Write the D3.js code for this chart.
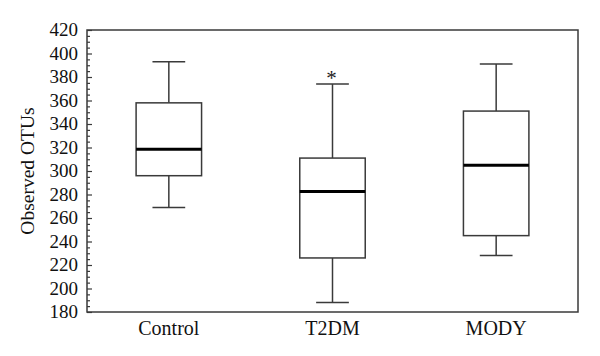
<!DOCTYPE html>
<html>
<head>
<meta charset="utf-8">
<script src="https://cdn.jsdelivr.net/npm/d3@7"></script>
<style>
  html, body { margin: 0; padding: 0; background: #ffffff; }
  svg { display: block; }
</style>
</head>
<body>
<svg id="chart" width="600" height="356"></svg>
<script>
const categories = ["Control", "T2DM", "MODY"];
const whiskerLow = [269, 188, 228];
const q1Values = [296, 226, 245];
const medianValues = [318.5, 282.5, 305];
const q3Values = [358, 311, 351];
const whiskerHigh = [393, 374, 391];
const markers = ["", "*", ""];
const yTicks = [180, 200, 220, 240, 260, 280, 300, 320, 340, 360, 380, 400, 420];
const yLabel = "Observed OTUs";

const svg = d3.select("#chart");
const margin = { left: 87, right: 22, top: 30, bottom: 44 };
const W = 600, H = 356;
const x0 = margin.left, x1 = W - margin.right;
const y0 = H - margin.bottom, y1 = margin.top;

const x = d3.scaleBand().domain(categories).range([x0, x1]).padding(0);
const y = d3.scaleLinear().domain([180, 420]).range([y0, y1]);

const font = "'Liberation Serif', 'Times New Roman', serif";
const lineColor = "#3a3a3a";

// minor ticks (inward)
const minor = d3.range(180, 421, 5).filter(v => v % 20 !== 0);
svg.append("g").attr("transform", `translate(${x0},0)`)
  .call(d3.axisRight(y).tickValues(minor).tickSize(3).tickFormat(""))
  .call(g => g.select(".domain").remove())
  .call(g => g.selectAll("line").attr("stroke", lineColor).attr("stroke-width", 1.2));

// major ticks inward
svg.append("g").attr("transform", `translate(${x0},0)`)
  .call(d3.axisRight(y).tickValues(yTicks).tickSize(5).tickFormat(""))
  .call(g => g.select(".domain").remove())
  .call(g => g.selectAll("line").attr("stroke", lineColor).attr("stroke-width", 1.2));

// tick labels on the left
svg.append("g").selectAll("text").data(yTicks).join("text")
  .attr("x", x0 - 9)
  .attr("y", d => y(d))
  .attr("dy", "0.34em")
  .attr("text-anchor", "end")
  .attr("font-family", font)
  .attr("font-size", 19)
  .attr("fill", "#111")
  .text(d => d);

// frame
svg.append("rect")
  .attr("x", x0).attr("y", y1)
  .attr("width", x1 - x0).attr("height", y0 - y1)
  .attr("fill", "none").attr("stroke", lineColor).attr("stroke-width", 1.5);

// x labels
svg.append("g").selectAll("text").data(categories).join("text")
  .attr("x", d => x(d) + x.bandwidth() / 2)
  .attr("y", y0 + 23)
  .attr("text-anchor", "middle")
  .attr("font-family", font)
  .attr("font-size", 20)
  .attr("fill", "#111")
  .text(d => d);

// y label
svg.append("text")
  .attr("transform", `translate(34,${(y0 + y1) / 2}) rotate(-90)`)
  .attr("text-anchor", "middle")
  .attr("font-family", font)
  .attr("font-size", 19.5)
  .attr("fill", "#111")
  .text(yLabel);

// boxes
const bw = x.bandwidth();
const boxW = bw * 0.4;
const capW = bw * 0.2;
const data = categories.map((c, i) => ({
  c, lo: whiskerLow[i], q1: q1Values[i], med: medianValues[i], q3: q3Values[i], hi: whiskerHigh[i], mk: markers[i]
}));

const g = svg.append("g").selectAll("g").data(data).join("g")
  .attr("transform", d => `translate(${x(d.c) + bw / 2},0)`);

g.append("line").attr("x1", 0).attr("x2", 0)
  .attr("y1", d => y(d.hi)).attr("y2", d => y(d.q3))
  .attr("stroke", lineColor).attr("stroke-width", 1.5);
g.append("line").attr("x1", 0).attr("x2", 0)
  .attr("y1", d => y(d.q1)).attr("y2", d => y(d.lo))
  .attr("stroke", lineColor).attr("stroke-width", 1.5);
g.append("line").attr("x1", -capW / 2).attr("x2", capW / 2)
  .attr("y1", d => y(d.hi)).attr("y2", d => y(d.hi))
  .attr("stroke", lineColor).attr("stroke-width", 1.5);
g.append("line").attr("x1", -capW / 2).attr("x2", capW / 2)
  .attr("y1", d => y(d.lo)).attr("y2", d => y(d.lo))
  .attr("stroke", lineColor).attr("stroke-width", 1.5);
g.append("rect")
  .attr("x", -boxW / 2).attr("width", boxW)
  .attr("y", d => y(d.q3)).attr("height", d => y(d.q1) - y(d.q3))
  .attr("fill", "#fff").attr("stroke", lineColor).attr("stroke-width", 1.5);
g.append("line").attr("x1", -boxW / 2).attr("x2", boxW / 2)
  .attr("y1", d => y(d.med)).attr("y2", d => y(d.med))
  .attr("stroke", "#000").attr("stroke-width", 3);
g.append("text")
  .attr("x", -1)
  .attr("y", d => y(d.hi) + 1)
  .attr("text-anchor", "middle")
  .attr("font-family", font)
  .attr("font-size", 21)
  .attr("fill", "#222")
  .text(d => d.mk);
</script>
</body>
</html>
